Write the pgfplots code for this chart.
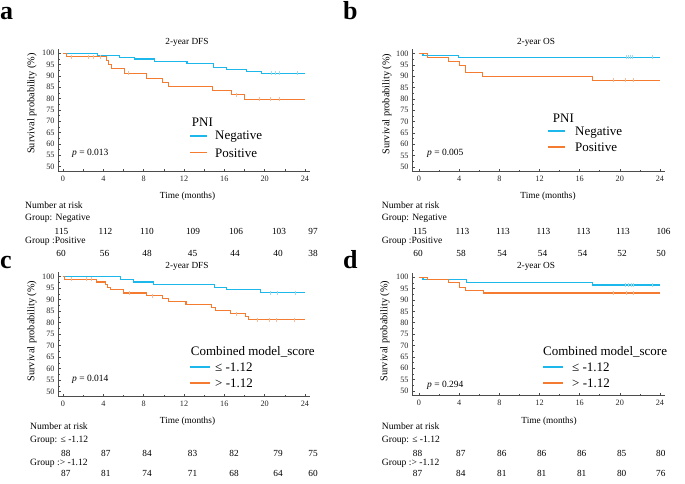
\documentclass[border=0pt]{standalone}
\usepackage{fontspec}
\setmainfont{Liberation Serif}
\usepackage{pgfplots}
\pgfplotsset{compat=1.18}

\definecolor{kmblue}{HTML}{1CB8EC}
\definecolor{kmorange}{HTML}{F47B2F}
\definecolor{kmbluec}{HTML}{9FDCF4}
\definecolor{kmorangec}{HTML}{F9BE98}
\newcommand{\fs}[1]{\fontsize{#1}{#1}\selectfont}

\pgfplotsset{
  km/.style={
    scale only axis, anchor=south west,
    axis lines=left, axis line style={-, black!70, line width=0.7pt},
    xmin=-0.5, xmax=24.5, ymin=48, ymax=102,
    xtick={0,4,...,24}, minor xtick={2,6,...,22},
    ytick={50,55,...,100}, minor ytick={52.5,57.5,...,97.5},
    tick align=inside, major tick length=2.5pt, minor tick length=1.8pt,
    tick style={black!70, line width=0.5pt},
    ticklabel style={font=\fs{8.2}, black!85},
    /pgf/number format/assume math mode=true,
    xticklabel style={yshift=-1.5pt},
    clip=false,
  },
  neg/.style={kmblue, line width=1.1pt, const plot, mark=none},
  pos/.style={kmorange, line width=1.1pt, const plot, mark=none},
  cen/.style={only marks, mark=|, mark size=2pt, mark options={line width=0.6pt}},
}

\begin{document}
\begin{tikzpicture}
\begin{scope}[x=1pt, y=-1pt]
  \useasboundingbox (0,0) rectangle (685,483);
\end{scope}

% ---- a: 2-year DFS, PNI
\begin{axis}[km, at={(58pt,-171pt)}, width=252pt, height=122.4pt]
  \addplot[neg] coordinates {(0,100) (3.4,99.1) (5.6,98.2) (7.1,97.4) (9.1,96.5)
    (12.3,95.6) (14.9,93.8) (16.2,92.9) (18.2,92.0) (19.7,91.1) (24,91.1)};
  \addplot[pos] coordinates {(0,100) (0.35,98.4) (4.3,96.6) (4.55,94.9) (4.8,93.1)
    (6.1,91.1) (8.25,89.0) (9.9,87.1) (10.5,85.3) (14.8,83.5) (16.75,81.6)
    (18.0,79.7) (24,79.7)};
  \addplot[cen, kmbluec] coordinates {(20.7,91.1) (21.1,91.1) (21.5,91.1) (23.2,91.1)};
  \addplot[cen, kmorangec] coordinates {(0.8,98.4) (2.5,98.4) (3.0,98.4) (3.7,98.4)
    (6.5,91.1) (17.2,81.6) (19.5,79.7) (20.6,79.7) (21.5,79.7)};
\end{axis}

% ---- b: 2-year OS, PNI
\begin{axis}[km, at={(412pt,-171.5pt)}, width=253pt, height=122.4pt, xmin=-0.7]
  \addplot[neg] coordinates {(0,100) (0.4,99.1) (3.9,98.3) (24,98.3)};
  \addplot[pos] coordinates {(0,100) (0.8,98.4) (2.9,96.6) (4.0,94.9) (4.65,91.6)
    (6.35,89.9) (17.3,88.2) (24,88.2)};
  \addplot[cen, kmbluec] coordinates {(20.6,98.3) (20.8,98.3) (21.0,98.3) (21.2,98.3) (23.2,98.3)};
  \addplot[cen, kmorangec] coordinates {(19.3,88.2) (20.5,88.2) (21.3,88.2)};
\end{axis}

% ---- c: 2-year DFS, combined model score
\begin{axis}[km, at={(58pt,-396.3pt)}, width=252pt, height=124.2pt]
  \addplot[neg] coordinates {(0,100) (5.7,98.9) (7.0,97.7) (9.0,96.6) (15.0,95.4)
    (16.2,94.3) (19.6,93.1) (24,93.1)};
  \addplot[pos] coordinates {(0,100) (0.15,98.85) (3.3,97.7) (4.2,96.55) (4.4,95.4)
    (4.7,94.25) (6.0,92.9) (8.3,91.7) (9.9,90.5) (10.5,89.3) (12.2,87.8)
    (14.7,86.6) (15.1,85.3) (16.6,84.0) (18.1,82.8) (18.4,81.3) (24,81.3)};
  \addplot[cen, kmbluec] coordinates {(20.6,93.1) (21.3,93.1) (23.0,93.1)};
  \addplot[cen, kmorangec] coordinates {(0.8,98.85) (2.3,98.85) (2.8,98.85) (6.6,92.9)
    (8.9,91.7) (17.2,84.0) (19.3,81.3) (20.5,81.3) (21.2,81.3) (22.9,81.3)};
\end{axis}

% ---- d: 2-year OS, combined model score
\begin{axis}[km, at={(412pt,-395.5pt)}, width=253pt, height=122.8pt, xmin=-0.7]
  \addplot[neg] coordinates {(0,100) (0.4,98.9) (4.75,97.7) (17.3,96.6) (24,96.6)};
  \addplot[pos] coordinates {(0,100) (0.8,98.85) (2.9,97.7) (4.0,95.4) (4.65,94.25)
    (6.4,93.1) (24,93.1)};
  \addplot[cen, kmbluec] coordinates {(20.5,96.6) (20.8,96.6) (21.1,96.6) (21.3,96.6) (23.2,96.6)};
  \addplot[cen, kmorangec] coordinates {(19.3,93.1) (20.6,93.1) (21.3,93.1)};
\end{axis}

\begin{scope}[x=1pt, y=-1pt, every node/.style={inner sep=0pt}]
  % panel letters
  \foreach \l/\x/\y in {a/0/19, b/343/19, c/0/268, d/343/268}
    \node[anchor=base west, font=\fs{26}\bfseries] at (\x,\y) {\l};
  % titles
  \foreach \t/\x/\y in {2-year DFS/187/42, 2-year OS/536/42, 2-year DFS/187/266, 2-year OS/536/266}
    \node[font=\fs{9.3}] at (\x,\y) {\t};
  % y labels
  \foreach \x/\y in {32/103.5, 387/104, 32/331, 385/331}
    \node[rotate=90, font=\fs{10.3}] at (\x,\y) {Survival probability (\%)};
  % x labels
  \foreach \x/\y in {187.5/196, 548/196, 187.5/421, 549/421}
    \node[font=\fs{9.3}] at (\x,\y) {Time (months)};
  % p values
  \node[anchor=west, font=\fs{9.5}] at (72,153) {\textit{p} = 0.013};
  \node[anchor=west, font=\fs{9.5}] at (427,153) {\textit{p} = 0.005};
  \node[anchor=west, font=\fs{9.5}] at (72,379) {\textit{p} = 0.014};
  \node[anchor=west, font=\fs{9.5}] at (427,385) {\textit{p} = 0.294};

  % legends
  \node[anchor=west, font=\fs{13}] at (191.7,122) {PNI};
  \draw[kmblue, line width=1.5pt] (190,136) -- (207,136);
  \draw[kmorange, line width=1.5pt] (190,152.5) -- (207,152.5);
  \node[anchor=west, font=\fs{13}] at (215,137) {Negative};
  \node[anchor=west, font=\fs{13}] at (215,153) {Positive};

  \node[anchor=west, font=\fs{13}] at (552.7,118) {PNI};
  \draw[kmblue, line width=1.5pt] (548,131) -- (565,131);
  \draw[kmorange, line width=1.5pt] (548,147) -- (565,147);
  \node[anchor=west, font=\fs{13}] at (575,133) {Negative};
  \node[anchor=west, font=\fs{13}] at (575,147.5) {Positive};

  \node[anchor=west, font=\fs{13}] at (190.7,352) {Combined model\_score};
  \draw[kmblue, line width=1.5pt] (190,367) -- (210,367);
  \draw[kmorange, line width=1.5pt] (190,383) -- (210,383);
  \node[anchor=west, font=\fs{13}] at (215,367) {≤ -1.12};
  \node[anchor=west, font=\fs{13}] at (215,383) {> -1.12};

  \node[anchor=west, font=\fs{13}] at (543,352) {Combined model\_score};
  \draw[kmblue, line width=1.5pt] (543,367) -- (563,367);
  \draw[kmorange, line width=1.5pt] (543,383) -- (563,383);
  \node[anchor=west, font=\fs{13}] at (572,367) {≤ -1.12};
  \node[anchor=west, font=\fs{13}] at (572,383) {> -1.12};

  % number at risk tables
  \begin{scope}[every node/.append style={font=\fs{9.6}, anchor=west}]
    \node at (25,205) {Number at risk};
    \node at (25,218.3) {Group: Negative};
    \node at (25,241.7) {Group :Positive};
    \node at (381.7,205) {Number at risk};
    \node at (381.7,218.3) {Group: Negative};
    \node at (381.7,241.7) {Group :Positive};
    \node at (30,426) {Number at risk};
    \node at (30,440) {Group: ≤ -1.12};
    \node at (30,463.3) {Group :> -1.12};
    \node at (381.7,426) {Number at risk};
    \node at (381.7,440) {Group: ≤ -1.12};
    \node at (381.7,463.3) {Group :> -1.12};
  \end{scope}
  \begin{scope}[every node/.append style={font=\fs{9.3}}]
    \foreach \x/\n in {61.5/115, 105.5/112, 147/110, 193/109, 236/106, 279/103, 313/97}
      \node at (\x,231.7) {\n};
    \foreach \x/\n in {61/60, 104.5/56, 147/48, 192.5/45, 235/44, 278/40, 313/38}
      \node at (\x,253.3) {\n};
    \foreach \x/\n in {420/115, 462.5/113, 503/113, 543.5/113, 583.5/113, 623/113, 663.5/106}
      \node at (\x,231.7) {\n};
    \foreach \x/\n in {418/60, 461/58, 502/54, 542.5/54, 582.5/54, 622/52, 661/50}
      \node at (\x,253.3) {\n};
    \foreach \x/\n in {65.8/88, 105.8/87, 147/84, 192.5/83, 234/82, 278/79, 313/75}
      \node at (\x,453.3) {\n};
    \foreach \x/\n in {65.8/87, 105.8/81, 147/74, 192.5/71, 234/68, 278/64, 313/60}
      \node at (\x,473.3) {\n};
    \foreach \x/\n in {417.5/88, 460.8/87, 501.8/86, 541.7/86, 581.7/86, 621.7/85, 660.8/80}
      \node at (\x,453.3) {\n};
    \foreach \x/\n in {417.5/87, 460.8/84, 501.8/81, 541.7/81, 581.7/81, 621.7/80, 660.8/76}
      \node at (\x,473.3) {\n};
  \end{scope}
\end{scope}
\end{tikzpicture}
\end{document}
